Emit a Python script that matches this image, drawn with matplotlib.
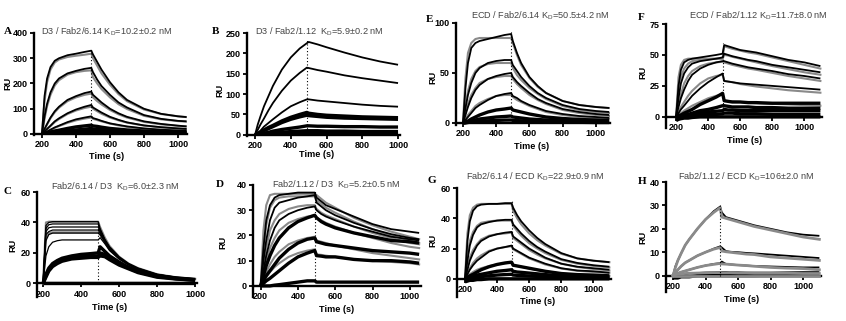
import numpy as np
import matplotlib.pyplot as plt

# ---- data (time in s, response in RU) ----
# panel A: D3 / Fab2/6.14
A_t = [200, 215, 230, 250, 275, 300, 350, 400, 450, 490, 500, 525, 550, 600, 650, 700, 800, 900, 1000, 1050]
A_data = [
    [0, 150, 220, 265, 290, 300, 312, 318, 325, 330, 315, 285, 255, 205, 165, 135, 100, 80, 70, 67],
    [0, 70, 120, 165, 200, 220, 240, 250, 258, 262, 245, 215, 190, 155, 125, 105, 75, 60, 52, 50],
    [0, 20, 40, 65, 90, 108, 135, 150, 162, 168, 155, 140, 125, 100, 82, 68, 50, 40, 33, 30],
    [0, 10, 20, 33, 50, 62, 82, 97, 108, 115, 105, 95, 85, 68, 56, 46, 34, 27, 22, 20],
    [0, 5, 10, 17, 26, 33, 47, 58, 65, 70, 63, 58, 52, 42, 36, 30, 22, 17, 14, 13],
    [0, 2, 4, 8, 12, 15, 22, 28, 32, 35, 32, 30, 27, 22, 19, 16, 12, 9, 8, 7],
    [0, 1, 2, 4, 6, 8, 12, 16, 19, 22, 20, 18, 17, 14, 12, 10, 8, 6, 5, 5],
    [0, 0.5, 1, 2, 3, 4, 6, 8, 10, 12, 11, 10, 9, 8, 7, 6, 4, 3, 3, 3],
    [0, 0, 0.5, 1, 1.5, 2, 3, 4, 5, 5, 5, 5, 4, 4, 3, 3, 2, 2, 1, 1],
]
A_fit = [
    [0, 130, 205, 255, 283, 295, 305, 310, 314, 318, 300, 270, 240, 195, 158, 130, 97, 79, 70, 67],
    [0, 60, 110, 155, 192, 213, 235, 245, 250, 252, 225, 200, 178, 145, 118, 99, 72, 58, 51, 49],
    [0, 18, 37, 62, 86, 104, 130, 145, 155, 160, 145, 130, 117, 95, 78, 65, 48, 38, 32, 30],
    [0, 9, 19, 31, 47, 59, 79, 93, 103, 108, 100, 90, 80, 65, 54, 45, 33, 26, 22, 20],
    [0, 4, 9, 16, 24, 31, 44, 54, 61, 65, 60, 55, 50, 41, 34, 28, 21, 16, 13, 12],
]

# panel B: D3 / Fab2/1.12
B_t = [200, 215, 230, 250, 275, 300, 350, 400, 450, 490, 500, 550, 600, 700, 800, 900, 1000]
B_data = [
    [0, 25, 45, 70, 95, 120, 160, 190, 212, 225, 228, 222, 215, 202, 190, 180, 172],
    [0, 12, 25, 40, 60, 78, 108, 133, 152, 165, 164, 159, 155, 146, 139, 133, 127],
    [0, 5, 10, 20, 29, 38, 55, 70, 80, 87, 87, 84, 82, 78, 74, 71, 69],
    [0, 3, 6, 12, 18, 23, 34, 43, 50, 55, 53, 50, 48, 46, 44, 43, 42],
    [0, 2, 5, 10, 15, 20, 30, 38, 44, 48, 47, 45, 43, 41, 40, 39, 38],
    [0, 1, 2, 4, 6, 9, 13, 16, 19, 22, 22, 21, 21, 20, 20, 19, 19],
    [0, 0.5, 1, 2, 3, 4, 6, 8, 9, 10, 10, 10, 9, 9, 8, 8, 8],
    [0, 0, 0.5, 1, 1.5, 2, 3, 4, 4.5, 5, 5, 5, 4, 4, 4, 3, 3],
]
B_fit = []

# panel E: ECD / Fab2/6.14
E_t = [200, 215, 230, 250, 275, 300, 350, 400, 450, 490, 500, 525, 550, 600, 650, 700, 800, 900, 1000, 1080]
E_data = [
    [0, 35, 60, 75, 80, 82, 84, 86, 88, 89, 82, 70, 60, 46, 37, 30, 22, 18, 16, 15],
    [0, 15, 28, 40, 50, 55, 60, 62, 63, 63, 58, 52, 46, 37, 30, 25, 18, 14, 12, 11],
    [0, 8, 16, 25, 33, 38, 44, 47, 49, 50, 46, 41, 37, 30, 24, 20, 14, 11, 9, 8],
    [0, 3, 6, 10, 15, 18, 23, 27, 29, 30, 27, 25, 22, 18, 15, 12, 9, 7, 6, 5],
    [0, 1, 2, 4, 6, 8, 11, 13, 14, 15, 13, 12, 11, 9, 7.5, 6, 4.5, 3.5, 3, 2.5],
    [0, 0.5, 1, 2, 3, 4, 5, 6, 6.5, 7, 6, 5.5, 5, 4, 3.5, 3, 2, 1.5, 1.2, 1],
    [0, 0, 0.5, 1, 1.3, 1.7, 2.2, 2.6, 2.9, 3, 2.6, 2.4, 2.2, 1.8, 1.5, 1.3, 1, 0.7, 0.5, 0.5],
]
E_fit = [
    [0, 45, 70, 80, 84, 85, 85, 85, 85, 85, 80, 68, 58, 45, 36, 30, 22, 18, 16, 15],
    [0, 18, 32, 44, 52, 56, 59, 60, 60, 60, 55, 48, 43, 35, 29, 24, 17, 13, 11, 10],
    [0, 10, 19, 28, 35, 40, 44, 46, 47, 47, 44, 39, 35, 28, 23, 19, 13, 10, 8, 7],
    [0, 4, 8, 12, 17, 20, 24, 27, 28, 28, 26, 23, 21, 17, 14, 11, 8, 6, 5, 4.5],
]

# panel F: ECD / Fab2/1.12
F_t = [200, 215, 230, 250, 275, 300, 350, 400, 450, 490, 500, 525, 550, 600, 650, 700, 800, 900, 1000, 1100]
F_data = [
    [0, 25, 38, 44, 46, 47, 48, 49, 50, 51, 58, 57, 56, 54, 53, 52, 49, 46, 44, 41],
    [0, 15, 27, 35, 40, 43, 45, 46, 47, 48, 51, 50, 49, 47.5, 46, 45, 42, 40, 38, 36],
    [0, 8, 15, 22, 29, 34, 39, 42, 44, 45, 45, 44, 43, 41.5, 40, 39, 37, 34.5, 33, 31],
    [0, 3, 6, 9, 13, 17, 23, 28, 32, 35, 29, 28.5, 28, 27, 26.5, 26, 25, 24, 23, 22],
    [0, 1, 1.5, 3, 4.5, 6, 10, 13, 16, 19, 13, 12.5, 12, 12, 11.5, 11.5, 11, 11, 11, 11],
    [0, 0.5, 1, 1.5, 2, 3, 5, 6, 7.5, 9, 9, 8.5, 8, 8, 8, 7.5, 7.5, 7, 7, 7],
    [0, 0, 0.5, 1, 1.5, 2, 3, 4, 4.5, 5, 6, 5.5, 5.5, 5, 5, 5, 5, 5, 5, 5],
    [0, 0, 0, 0.5, 0.5, 1, 1.5, 2, 2, 2.5, 3, 3, 3, 2.5, 2.5, 2.5, 2, 2, 2, 2],
    [-3, -2, -1.5, -1, -1, -0.5, 0, 0, 0, 0, 0, 0, 0, 0, 0, 0, 0, 0, 0, 0],
]
F_fit = [
    [0, 32, 42, 46, 47, 47, 47, 47, 47, 47, 57, 56, 55, 53.5, 52, 51, 48, 45, 42, 39],
    [0, 20, 32, 39, 43, 45, 46, 46.5, 47, 47, 50, 49.5, 48.5, 47, 45.5, 44, 41, 38.5, 36, 34],
    [0, 10, 18, 27, 33, 37, 41, 43, 44, 44.5, 44, 43, 42, 40.5, 39, 38, 35.5, 33, 31, 29],
    [0, 4, 8, 12, 17, 21, 27, 31, 33, 34, 29, 28.5, 28, 26.5, 25.5, 24.5, 23, 21.5, 20.5, 19.5],
    [0, 1.5, 3, 5, 7, 9, 12, 15, 17, 18, 13, 12.8, 12.5, 12, 11.5, 11, 10.5, 10, 9.5, 9],
]

# panel C: Fab2/6.14 / D3
C_t = [200, 215, 230, 250, 275, 300, 350, 400, 450, 490, 500, 525, 550, 600, 650, 700, 800, 900, 1000]
C_data = [
    [0, 38, 40, 40.5, 40.5, 40.5, 40.5, 40.5, 40.5, 40.5, 36, 29, 24, 17.5, 13, 10, 6, 4, 3],
    [0, 36, 38.5, 39, 39, 39, 39, 39, 39, 39, 35, 28.5, 23.5, 17, 12.8, 9.8, 5.8, 3.9, 2.9],
    [0, 34, 36.5, 37, 37, 37, 37, 37, 37, 37, 34, 28, 23, 16.8, 12.6, 9.6, 5.7, 3.8, 2.8],
    [0, 32, 34, 35, 35, 35, 35, 35, 35, 35, 33, 27.5, 22.5, 16.5, 12.4, 9.4, 5.6, 3.7, 2.7],
    [0, 28, 32, 33, 33, 33, 33, 33, 33, 33, 32, 27, 22, 16.2, 12.2, 9.2, 5.5, 3.6, 2.6],
    [0, 18, 24, 27, 28, 28.5, 28.5, 28.5, 28.5, 28.5, 30, 26, 21.5, 16, 12, 9, 5.4, 3.5, 2.5],
    [0, 6, 10, 13, 15, 16.5, 18, 19, 19.5, 20, 24, 21, 18, 14, 10.5, 8, 5, 3.5, 2.5],
    [0, 5, 9, 12, 14, 15.5, 17, 17.5, 18, 18, 20, 19, 16.5, 13, 10, 7.5, 4.5, 3, 2],
    [0, 4, 8, 11, 13, 14.5, 16, 16.5, 17, 17, 18, 17.5, 15.5, 12, 9.5, 7, 4, 2.8, 2],
    [0, 0, 0, 0, 0, 0, 0, 0, 0, 0, 0, 0, 0, 0, 0, 0, 0, 0, 0],
]
C_fit = [
    [0, 40, 40.5, 40.5, 40.5, 40.5, 40.5, 40.5, 40.5, 40.5, 37, 30, 24.5, 17.5, 13, 10, 6, 4, 3],
    [0, 30, 33, 33.5, 33.5, 33.5, 33.5, 33.5, 33.5, 33.5, 32, 27, 22, 16.2, 12.2, 9.2, 5.5, 3.6, 2.6],
]

# panel D: Fab2/1.12 / D3
D_t = [200, 215, 230, 250, 275, 300, 350, 400, 450, 490, 500, 525, 550, 600, 700, 800, 900, 1000, 1050]
D_data = [
    [0, 15, 26, 32, 35, 36, 36.5, 37, 37, 37, 35, 33.5, 32, 30.5, 27.5, 24.5, 22.5, 21.5, 21],
    [0, 10, 18, 26, 31, 33, 34, 35, 35.5, 36, 33, 31.5, 30, 28, 25, 22.5, 20.5, 19, 18.5],
    [0, 6, 12, 18, 23, 26, 28.5, 30, 31, 31.5, 30, 28.5, 27.5, 26, 23.5, 21.5, 19.5, 18.5, 18],
    [0, 4, 8, 12, 16, 19, 23, 25.5, 27, 28, 27, 25.5, 24.5, 23, 21, 19.5, 18, 17.5, 17],
    [0, 2, 4, 6, 8.5, 11, 14.5, 17, 18.5, 19, 17.5, 17, 16.5, 16, 15, 14, 13.5, 13, 12.5],
    [0, 1, 2, 3, 4.5, 6, 9, 11.5, 13, 14, 12, 11.8, 11.5, 11.5, 10.5, 10, 10, 9.5, 9],
    [0, 0, 0, 0, 0.3, 0.5, 1, 1.5, 2, 2, 1.5, 1.5, 1.5, 1.5, 1.5, 1.5, 1.5, 1.5, 1.5],
]
D_fit = [
    [0, 22, 32, 36, 36.5, 36.5, 36.5, 36.5, 36.5, 36.5, 36, 34.5, 33, 31, 27, 24, 21.5, 19.5, 18.5],
    [0, 14, 24, 31, 34, 35, 35.5, 35.5, 35.5, 35.5, 34, 32.5, 31, 29, 25.5, 22.5, 20, 18, 17],
    [0, 8, 15, 22, 26, 28.5, 30.5, 31.5, 32, 32, 30.5, 29, 28, 26.5, 23.5, 21, 19, 17, 16.5],
    [0, 5, 10, 15, 19, 22, 25, 26.5, 27.5, 28, 27, 26, 25, 23.5, 21, 19, 17, 15.5, 15],
    [0, 3, 5.5, 8.5, 11.5, 13.5, 16.5, 18, 19, 19.5, 18, 17.5, 17, 16, 14.5, 13, 12, 11, 10.5],
    [0, 2, 3.5, 5.5, 7.5, 9, 11.5, 13, 14, 14.5, 12.5, 12.3, 12, 11.5, 10.5, 10, 9.5, 9, 8.5],
]

# panel G: Fab2/6.14 / ECD
G_t = [200, 215, 230, 250, 275, 300, 350, 400, 450, 490, 500, 525, 550, 600, 650, 700, 800, 900, 1000, 1100]
G_data = [
    [0, 25, 38, 45, 48, 49, 49.5, 49.5, 50, 50, 47, 42, 38, 32, 27, 23, 17, 13.5, 12, 11],
    [0, 12, 22, 29, 34, 36, 37.5, 38.5, 39, 39, 36, 33, 30, 25, 21, 18, 13, 10.5, 9, 8],
    [0, 6, 12, 17, 22, 25, 28, 29.5, 30.5, 31, 28, 26, 24, 20, 17, 14, 10, 8, 7, 6],
    [0, 3, 6, 9, 12, 14, 18, 20, 21, 22, 20, 18.5, 17, 14, 12, 10, 7, 5.5, 5, 4],
    [0, 1, 2, 3, 4.5, 6, 8, 9.5, 10.5, 11, 9, 8.5, 8, 7, 6, 5, 3.5, 2.8, 2.5, 2],
    [0, 0.5, 1, 1.5, 2.5, 3, 4, 5, 5.5, 6, 5, 4.5, 4.3, 3.8, 3.3, 2.8, 2, 1.5, 1.3, 1.2],
    [0, 0, 0.5, 0.8, 1, 1.5, 2, 2.5, 2.8, 3, 2.5, 2.3, 2.2, 1.9, 1.6, 1.4, 1, 0.8, 0.6, 0.5],
    [-2, -1.5, -1, -1, -0.5, -0.5, 0, 0, 0, 0, 0, 0, 0, 0, 0, 0, 0, 0, 0, 0],
]
G_fit = [
    [0, 30, 42, 47, 49, 49.5, 49.5, 49.5, 49.5, 49.5, 45, 40, 36, 30, 25.5, 22, 16.5, 13.5, 12, 11],
    [0, 15, 25, 31, 35, 37, 38, 38.5, 38.5, 38.5, 35, 31.5, 28.5, 23.5, 20, 17, 12.5, 10, 8.5, 7.5],
    [0, 8, 14, 19, 23, 26, 28.5, 29.5, 30, 30.5, 27, 25, 23, 19, 16, 13.5, 10, 7.8, 6.5, 5.5],
    [0, 4, 7, 10.5, 13.5, 15.5, 18.5, 20, 21, 21.5, 19.5, 18, 16.5, 13.5, 11.5, 9.5, 6.8, 5.3, 4.5, 4],
    [0, 1.5, 3, 4.5, 6, 7, 8.5, 9.5, 10.3, 10.8, 9, 8.5, 8, 6.8, 5.8, 5, 3.5, 2.7, 2.3, 2],
]

# panel H: Fab2/1.12 / ECD
H_t = [200, 215, 230, 250, 275, 300, 350, 400, 450, 490, 500, 525, 550, 600, 650, 700, 800, 900, 1000, 1100]
H_data = [
    [0, 4, 6.5, 9.5, 13, 15.5, 20, 24, 27.5, 29.5, 27, 25, 24.5, 23.5, 22.5, 21.5, 20, 18.5, 17.5, 17],
    [0, 1.5, 2.5, 4, 5.5, 6.5, 8.5, 10, 11.5, 12.5, 12, 10.5, 10.2, 10, 9.7, 9.5, 9, 8.5, 8, 7.5],
    [0, 0.5, 1, 1.5, 2, 2.5, 3.5, 4.3, 5, 5.3, 6, 5, 4.8, 4.5, 4.3, 4.1, 3.9, 3.7, 3.5, 3.5],
    [0, 0, 0.3, 0.5, 0.7, 0.9, 1.1, 1.3, 1.4, 1.5, 1.5, 1.5, 1.4, 1.4, 1.3, 1.3, 1.3, 1.4, 1.5, 1.5],
    [-1, -1, -1, -0.5, -0.5, -0.5, 0, 0, 0, 0, 0, 0, 0, 0, 0, 0, 0.3, 0.5, 0.5, 0.5],
]
H_fit = [
    [0, 3.5, 6.5, 9.5, 13, 15.5, 20, 24, 27, 29, 25, 24.5, 24, 23, 22, 21, 19.5, 18, 16.5, 15.5],
    [0, 1.5, 2.5, 4, 5.5, 6.5, 8.5, 10, 11.3, 12, 10.5, 10.2, 10, 9.6, 9.2, 9, 8, 7.5, 7, 6.5],
    [0, 0.5, 1, 1.5, 2, 2.5, 3.5, 4.3, 4.8, 5.2, 5, 4.9, 4.8, 4.5, 4.3, 4, 3.5, 3.2, 3, 2.5],
    [0, 0.5, 0.7, 0.8, 0.9, 1, 1.1, 1.2, 1.3, 1.3, 1.2, 1.2, 1.2, 1.1, 1.1, 1, 1, 1, 0.9, 0.9],
    [0, 0, 0, 0, 0, 0, 0, 0, 0, 0, 0, 0, 0, 0, 0, 0, 0, 0, 0, 0],
]

titles = {
    'A': 'D3 / Fab2/6.14 K$_\\mathregular{D}$=10.2±0.2 nM',
    'B': 'D3 / Fab2/1.12  K$_\\mathregular{D}$=5.9±0.2 nM',
    'E': 'ECD / Fab2/6.14 K$_\\mathregular{D}$=50.5±4.2 nM',
    'F': 'ECD / Fab2/1.12 K$_\\mathregular{D}$=11.7±8.0 nM',
    'C': 'Fab2/6.14 / D3  K$_\\mathregular{D}$=6.0±2.3 nM',
    'D': 'Fab2/1.12 / D3  K$_\\mathregular{D}$=5.2±0.5 nM',
    'G': 'Fab2/6.14 / ECD K$_\\mathregular{D}$=22.9±0.9 nM',
    'H': 'Fab2/1.12 / ECD K$_\\mathregular{D}$=106±2.0 nM',
}
yticks = {
    'A': [0, 100, 200, 300, 400], 'B': [0, 50, 100, 150, 200, 250],
    'E': [0, 50, 100], 'F': [0, 25, 50, 75],
    'C': [0, 20, 40, 60], 'D': [0, 10, 20, 30, 40],
    'G': [0, 20, 40, 60], 'H': [0, 10, 20, 30, 40],
}
xticks = [200, 400, 600, 800, 1000]

# ---- layout (pixel boxes measured on the 846x321 picture) ----
W, H = 846, 321
# x0, x1, ytop, ybottom, xlim, ylim
layout = {
    'A': (34, 187, 33, 135, (153, 1053), (-4, 400)),
    'B': (247, 400, 33, 136, (155, 1011), (-3, 250)),
    'E': (456, 610, 23, 125, (158, 1085), (-2, 100)),
    'F': (666, 822, 24, 128, (137, 1110), (-9, 75)),
    'C': (37, 197, 192, 297, (168, 1010), (-9, 60)),
    'D': (253, 421, 185, 297, (159, 1060), (-4.4, 40)),
    'G': (457, 611, 188, 297, (150, 1110), (-12, 60)),
    'H': (666, 821, 182, 292, (157, 1110), (-7, 40)),
}
# label positions: letter (x, y), title centre (x, y), xlabel (x, y), ylabel (x, y)
labels = {
    'A': ((4, 32), (107, 32), (107, 156), (8, 83)),
    'B': ((212, 32), (319, 32), (317, 154), (220, 90)),
    'E': ((426, 20), (540, 16), (532, 146), (433, 77)),
    'F': ((638, 17), (758, 16), (745, 140), (643, 72)),
    'C': ((3, 192), (115, 187), (110, 307), (13, 245)),
    'D': ((216, 185), (336, 185), (337, 310), (223, 242)),
    'G': ((428, 181), (535, 177), (538, 302), (433, 240)),
    'H': ((638, 182), (746, 177), (742, 300), (643, 237)),
}
panels = {
    'A': (A_t, A_data, A_fit), 'B': (B_t, B_data, B_fit),
    'E': (E_t, E_data, E_fit), 'F': (F_t, F_data, F_fit),
    'C': (C_t, C_data, C_fit), 'D': (D_t, D_data, D_fit),
    'G': (G_t, G_data, G_fit), 'H': (H_t, H_data, H_fit),
}
# curves from this index on are the noisy low-signal ones (drawn heavier)
thick_from = {'A': 5, 'B': 3, 'E': 4, 'F': 4, 'C': 6, 'D': 3, 'G': 4, 'H': 4}

fig = plt.figure(figsize=(W / 100, H / 100), dpi=100)
sans = 'Liberation Sans'

for key, (x0, x1, yt, yb, xl, yl) in layout.items():
    ax = fig.add_axes([x0 / W, 1 - yb / H, (x1 - x0) / W, (yb - yt) / H])
    t, data, fit = panels[key]
    gray_on_top = key == 'H'
    for i, c in enumerate(data):
        lw = 2.4 if i >= thick_from[key] else 1.3
        if key == 'C' and i < 6:
            lw = 0.9
        ax.plot(t, c, color='black', lw=lw, zorder=3 if not gray_on_top else 2,
                solid_capstyle='butt')
    for c in fit:
        ax.plot(t, c, color='#8a8a8a', lw=2.0 if gray_on_top else 1.5,
                zorder=3 if gray_on_top else 2)
    # injection end marker (dotted spike)
    t_end = t[9]
    peak = max(max(c) for c in data)
    ax.plot([t_end, t_end], [0, peak * 1.03], ls=(0, (1, 2)), color='black', lw=0.8, zorder=4)

    ax.set_xlim(*xl)
    ax.set_ylim(*yl)
    ax.set_xticks(xticks)
    ax.set_yticks(yticks[key])
    for s in ['top', 'right']:
        ax.spines[s].set_visible(False)
    ax.spines['bottom'].set_position(('data', 0))
    for s in ['left', 'bottom']:
        ax.spines[s].set_linewidth(1.7)
    ax.tick_params(length=3, width=1.3, pad=1.5, labelsize=6.5)
    for lab in ax.get_xticklabels() + ax.get_yticklabels():
        lab.set_fontfamily(sans)
        lab.set_fontweight('bold')

    (lx, ly), (tx, ty), (xx, xy), (rx, ry) = labels[key]
    fig.text(lx / W, 1 - ly / H, key, family='Liberation Serif', weight='bold',
             fontsize=8, ha='left', va='center')
    fig.text(tx / W, 1 - ty / H, titles[key], family=sans, fontsize=6.6,
             color='#444444', ha='center', va='center')
    fig.text(xx / W, 1 - xy / H, 'Time (s)', family=sans, weight='bold',
             fontsize=6.6, ha='center', va='center')
    fig.text(rx / W, 1 - ry / H, 'RU', family=sans, weight='bold', fontsize=6.6,
             rotation=90, ha='center', va='center')

fig.savefig('out.png', dpi=100)
